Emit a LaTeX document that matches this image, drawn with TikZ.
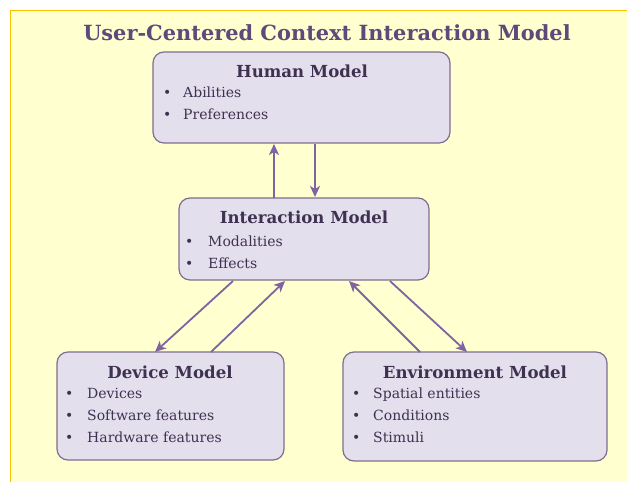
\documentclass[tikz,border=0pt]{standalone}
\usepackage{fontspec}
\setmainfont{DejaVu Serif}
\usetikzlibrary{arrows.meta}
\definecolor{pagebg}{HTML}{FFFFD0}
\definecolor{pageline}{HTML}{FFC000}
\definecolor{boxfill}{HTML}{E4DFEC}
\definecolor{boxline}{HTML}{7F6F8F}
\definecolor{arrowcol}{HTML}{8064A2}
\definecolor{textcol}{HTML}{3F3151}
\definecolor{titlecol}{HTML}{5F497A}
\tikzset{
  modelbox/.style={draw=boxline, fill=boxfill, line width=1.2pt, rounded corners=11pt},
  heading/.style={anchor=base, text=textcol, font=\fontsize{16.6}{16.6}\selectfont\bfseries, inner sep=0pt},
  item/.style={anchor=base west, text=textcol, font=\fontsize{14}{14}\selectfont, inner sep=0pt},
  link/.style={draw=arrowcol, line width=1.8pt, -{Stealth[length=11pt,width=10pt,inset=3pt]}}
}
\begin{document}
\begin{tikzpicture}[x=1pt,y=-1pt]
    \useasboundingbox (0,0) rectangle (627,482);
    \clip (0,0) rectangle (627,482);
    \fill [pagebg] (10,10) rectangle (640,500);
    \draw [pageline, line width=1pt] (640,10.5) -- (10.5,10.5) -- (10.5,500);
    \node [anchor=base, text=titlecol, font=\fontsize{20.9}{20.9}\selectfont\bfseries, inner sep=0pt]
        (title) at (327,40) {User-Centered Context Interaction Model};
    % boxes
    \draw [modelbox] (153,52) rectangle (450,143);
    \draw [modelbox] (179,198) rectangle (429,280);
    \draw [modelbox] (57,352) rectangle (284,460);
    \draw [modelbox] (343,352) rectangle (607,461);
    % headings
    \node [heading] (humanhead) at (302,77) {Human Model};
    \node [heading] (interhead) at (304,223) {Interaction Model};
    \node [heading] (devicehead) at (170,378) {Device Model};
    \node [heading] (envhead) at (475,378) {Environment Model};
    % bullet items
    \foreach \y/\t in {97/Abilities, 119/Preferences} {
        \node [item] at (163,\y) {•};
        \node [item] at (183,\y) {\t};
    }
    \foreach \y/\t in {246/Modalities, 268/Effects} {
        \node [item] at (185,\y) {•};
        \node [item] at (208,\y) {\t};
    }
    \foreach \y/\t in {398/Devices, 420/Software features, 442/Hardware features} {
        \node [item] at (65,\y) {•};
        \node [item] at (87,\y) {\t};
    }
    \foreach \y/\t in {398/Spatial entities, 420/Conditions, 442/Stimuli} {
        \node [item] at (352,\y) {•};
        \node [item] at (373,\y) {\t};
    }
    % connectors
    \coordinate (hi1) at (274,198); \coordinate (hi2) at (274,144);
    \coordinate (ih1) at (315,144); \coordinate (ih2) at (315,197);
    \draw [link] (hi1) -- (hi2);
    \draw [link] (ih1) -- (ih2);
    \coordinate (id1) at (233,281); \coordinate (id2) at (155,352);
    \coordinate (di1) at (211,352); \coordinate (di2) at (285,281);
    \draw [link] (id1) -- (id2);
    \draw [link] (di1) -- (di2);
    \coordinate (ei1) at (420,352); \coordinate (ei2) at (349,281);
    \coordinate (ie1) at (390,281); \coordinate (ie2) at (467,352);
    \draw [link] (ei1) -- (ei2);
    \draw [link] (ie1) -- (ie2);
\end{tikzpicture}
\end{document}
